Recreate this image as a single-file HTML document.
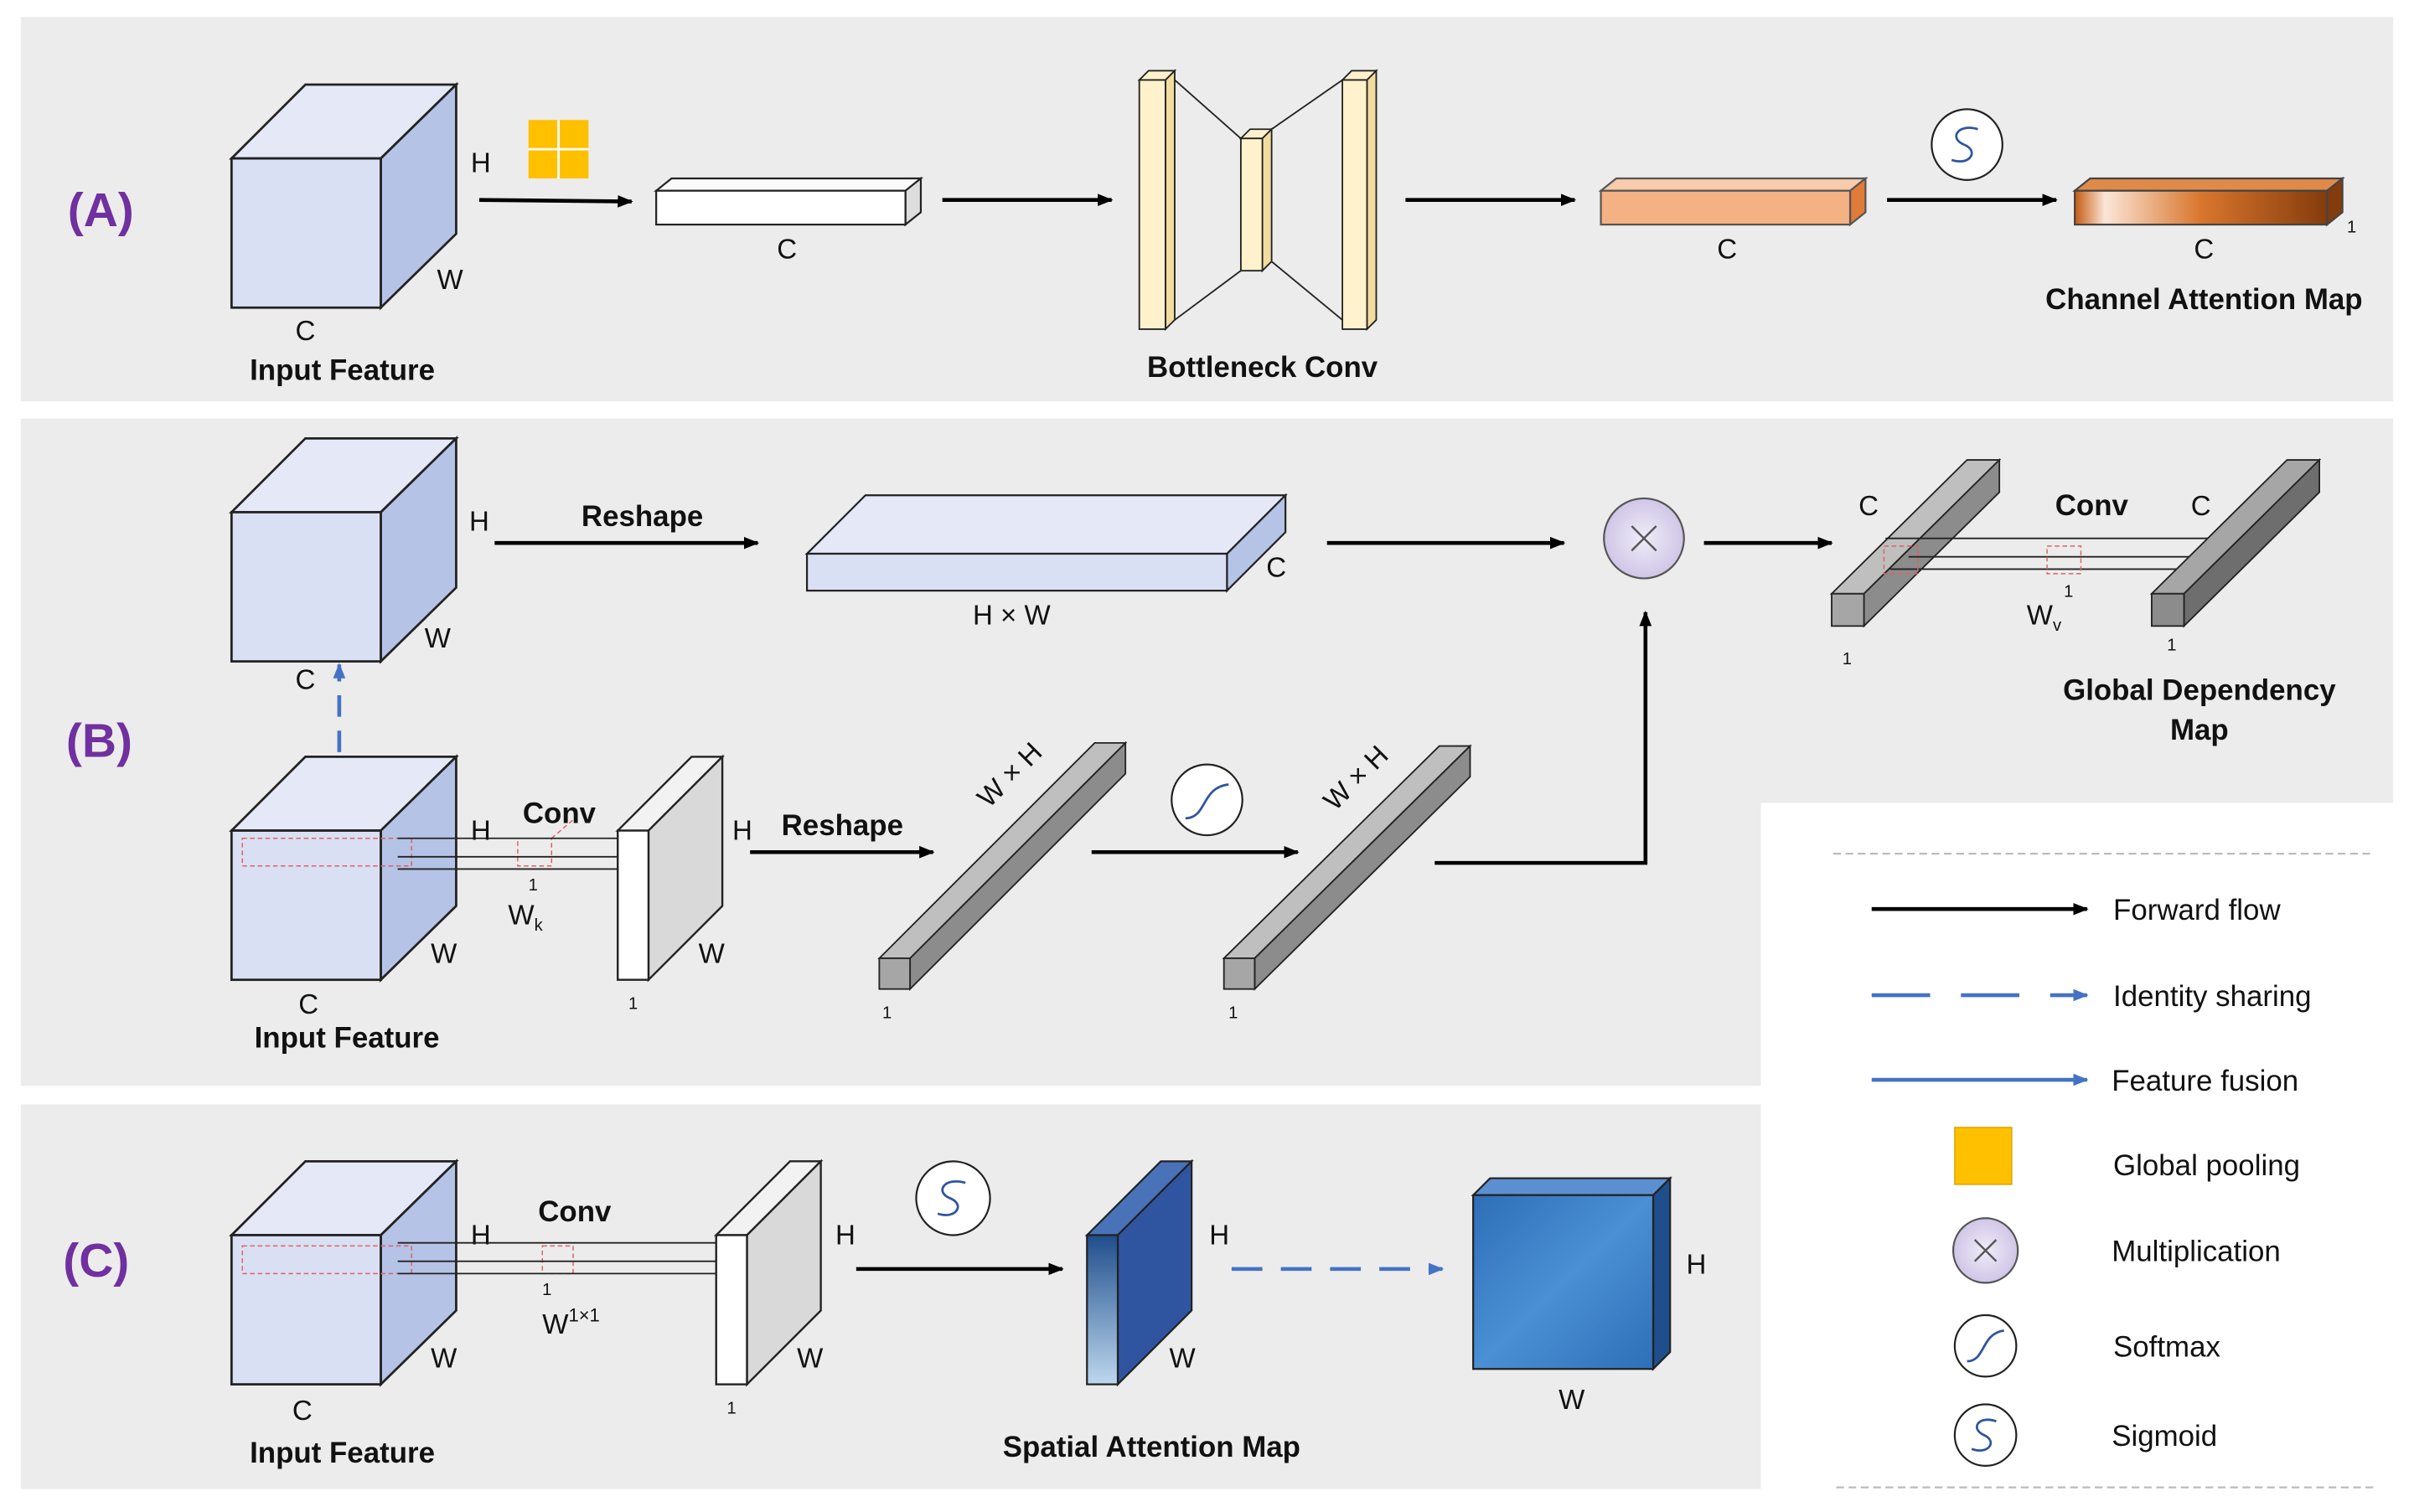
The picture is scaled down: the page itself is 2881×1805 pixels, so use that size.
<!DOCTYPE html>
<html><head><meta charset="utf-8">
<style>
html,body{margin:0;padding:0;background:#fff;}
svg{display:block;}
text{font-family:"Liberation Sans",sans-serif;fill:#111;}
.b{font-weight:bold;}
</style></head>
<body>
<svg width="2881" height="1805" viewBox="0 0 1568 983" xmlns="http://www.w3.org/2000/svg">
<defs>
<marker id="ah" markerWidth="10" markerHeight="10" refX="9" refY="5" orient="auto" markerUnits="userSpaceOnUse"><path d="M0,1 L10,5 L0,9 z" fill="#000"/></marker>
<marker id="ahb" markerWidth="10" markerHeight="10" refX="9" refY="5" orient="auto" markerUnits="userSpaceOnUse"><path d="M0,1 L10,5 L0,9 z" fill="#4472c4"/></marker>
<linearGradient id="gA" x1="0" x2="1" y1="0" y2="0"><stop offset="0" stop-color="#c55a11"/><stop offset="0.12" stop-color="#fbe5d6"/><stop offset="0.5" stop-color="#d9762d"/><stop offset="1" stop-color="#843c0c"/></linearGradient>
<linearGradient id="gS" x1="0" x2="0" y1="0" y2="1"><stop offset="0" stop-color="#1f4e8c"/><stop offset="1" stop-color="#bdd7ee"/></linearGradient>
<linearGradient id="gC" x1="0" x2="1" y1="0" y2="1"><stop offset="0" stop-color="#2e6fb8"/><stop offset="0.5" stop-color="#4a8fd4"/><stop offset="1" stop-color="#2e6fb8"/></linearGradient>
<radialGradient id="gM"><stop offset="0" stop-color="#f0ecf8"/><stop offset="1" stop-color="#cfc6e6"/></radialGradient>
</defs>

<!-- panel backgrounds -->
<rect x="13" y="11" width="1542" height="250" fill="#ececec"/>
<path d="M13,272 H1555 V522 H1144 V706 H13 Z" fill="#ececec"/>
<rect x="13" y="718" width="1131" height="250" fill="#ececec"/>

<!-- ===== Panel A ===== -->
<text x="65" y="147" font-size="31" class="b" text-anchor="middle" style="fill:#7030a0">(A)</text>
<g stroke="#222" stroke-width="1.5">
<polygon points="150,103 198,55 296,55 247,103" fill="#e4e8f7"/>
<polygon points="247,103 296,55 296,152 247,200" fill="#b4c3e6"/>
<rect x="150" y="103" width="97" height="97" fill="#dae0f3"/>
</g>
<text x="312" y="112" font-size="18" text-anchor="middle">H</text>
<text x="292" y="188" font-size="18" text-anchor="middle">W</text>
<text x="198" y="221" font-size="18" text-anchor="middle">C</text>
<text x="222" y="247" font-size="19" class="b" text-anchor="middle">Input Feature</text>
<rect x="343" y="78" width="39" height="38" fill="#ffc000"/>
<line x1="362.5" y1="78" x2="362.5" y2="116" stroke="#fff" stroke-width="1.5"/>
<line x1="343" y1="97" x2="382" y2="97" stroke="#fff" stroke-width="1.5"/>
<line x1="311" y1="130" x2="410" y2="131" stroke="#000" stroke-width="2.5" marker-end="url(#ah)"/>
<g stroke="#222" stroke-width="1.2">
<polygon points="426,124 436,116 598,116 588,124" fill="#fafafa"/>
<polygon points="588,124 598,116 598,138 588,146" fill="#ddd"/>
<rect x="426" y="124" width="162" height="22" fill="#fff"/>
</g>
<text x="511" y="168" font-size="18" text-anchor="middle">C</text>
<line x1="612" y1="130" x2="722" y2="130" stroke="#000" stroke-width="2.5" marker-end="url(#ah)"/>
<g stroke="#222" stroke-width="1">
<line x1="763" y1="52" x2="806" y2="90"/><line x1="763" y1="208" x2="806" y2="176"/>
<line x1="826" y1="84" x2="872" y2="52"/><line x1="826" y1="170" x2="872" y2="208"/>
<polygon points="740,52 746,46 763,46 757,52" fill="#fff2cc"/>
<polygon points="757,52 763,46 763,208 757,214" fill="#f2dca0"/>
<rect x="740" y="52" width="17" height="162" fill="#fff2cc"/>
<polygon points="806,90 812,84 826,84 820,90" fill="#fff2cc"/>
<polygon points="820,90 826,84 826,170 820,176" fill="#f2dca0"/>
<rect x="806" y="90" width="14" height="86" fill="#fff2cc"/>
<polygon points="872,52 878,46 894,46 888,52" fill="#fff2cc"/>
<polygon points="888,52 894,46 894,208 888,214" fill="#f2dca0"/>
<rect x="872" y="52" width="16" height="162" fill="#fff2cc"/>
</g>
<text x="820" y="245" font-size="19" class="b" text-anchor="middle">Bottleneck Conv</text>
<line x1="913" y1="130" x2="1023" y2="130" stroke="#000" stroke-width="2.5" marker-end="url(#ah)"/>
<g stroke="#555" stroke-width="1.2">
<polygon points="1040,124 1050,116 1212,116 1202,124" fill="#f8cbad"/>
<polygon points="1202,124 1212,116 1212,138 1202,146" fill="#e07b39"/>
<rect x="1040" y="124" width="162" height="22" fill="#f4b183"/>
</g>
<text x="1122" y="168" font-size="18" text-anchor="middle">C</text>
<circle cx="1278" cy="94" r="23" fill="#fff" stroke="#222" stroke-width="1.2"/>
<path d="M1285,84 C1272,80 1266,90 1276,94 C1286,98 1280,108 1268,104" fill="none" stroke="#2f55a0" stroke-width="1.5"/>
<line x1="1226" y1="130" x2="1336" y2="130" stroke="#000" stroke-width="2.5" marker-end="url(#ah)"/>
<g stroke="#444" stroke-width="1.2">
<polygon points="1348,124 1358,116 1522,116 1512,124" fill="#e08a4a"/>
<polygon points="1512,124 1522,116 1522,138 1512,146" fill="#843c0c"/>
<rect x="1348" y="124" width="164" height="22" fill="url(#gA)"/>
</g>
<text x="1528" y="151" font-size="11" text-anchor="middle">1</text>
<text x="1432" y="168" font-size="18" text-anchor="middle">C</text>
<text x="1432" y="201" font-size="19" class="b" text-anchor="middle">Channel Attention Map</text>

<!-- ===== Panel B ===== -->
<text x="64" y="492" font-size="31" class="b" text-anchor="middle" style="fill:#7030a0">(B)</text>
<g stroke="#222" stroke-width="1.5">
<polygon points="150,333 198,285 296,285 247,333" fill="#e4e8f7"/>
<polygon points="247,333 296,285 296,382 247,430" fill="#b4c3e6"/>
<rect x="150" y="333" width="97" height="97" fill="#dae0f3"/>
</g>
<text x="311" y="345" font-size="18" text-anchor="middle">H</text>
<text x="284" y="421" font-size="18" text-anchor="middle">W</text>
<text x="198" y="448" font-size="18" text-anchor="middle">C</text>
<text x="417" y="342" font-size="19" class="b" text-anchor="middle">Reshape</text>
<line x1="321" y1="353" x2="492" y2="353" stroke="#000" stroke-width="2.5" marker-end="url(#ah)"/>
<g stroke="#222" stroke-width="1.2">
<polygon points="524,360 562,322 835,322 797,360" fill="#e4e8f7"/>
<polygon points="797,360 835,322 835,346 797,384" fill="#b4c3e6"/>
<rect x="524" y="360" width="273" height="24" fill="#dae0f3"/>
</g>
<text x="829" y="375" font-size="18" text-anchor="middle">C</text>
<text x="657" y="406" font-size="18" text-anchor="middle">H × W</text>
<line x1="862" y1="353" x2="1016" y2="353" stroke="#000" stroke-width="2.5" marker-end="url(#ah)"/>
<circle cx="1068" cy="350" r="26" fill="url(#gM)" stroke="#555" stroke-width="1.2"/>
<path d="M1060,342 L1076,358 M1076,342 L1060,358" stroke="#555" stroke-width="1.3"/>
<line x1="1107" y1="353" x2="1190" y2="353" stroke="#000" stroke-width="2.5" marker-end="url(#ah)"/>
<!-- global dependency bars -->
<g stroke="#222" stroke-width="1">
<polygon points="1190,386 1278,299 1299,299 1211,386" fill="#bfbfbf"/>
<polygon points="1211,386 1299,299 1299,320 1211,407" fill="#8c8c8c"/>
<rect x="1190" y="386" width="21" height="21" fill="#a6a6a6"/>
<line x1="1225" y1="350" x2="1455" y2="350"/>
<line x1="1240" y1="362" x2="1440" y2="362"/>
<line x1="1228" y1="370" x2="1440" y2="370"/>
<polygon points="1398,386 1486,299 1507,299 1419,386" fill="#a6a6a6"/>
<polygon points="1419,386 1507,299 1507,320 1419,407" fill="#6e6e6e"/>
<rect x="1398" y="386" width="21" height="21" fill="#8c8c8c"/>
</g>
<g stroke="#e06060" stroke-width="0.8" fill="none" stroke-dasharray="3,2">
<rect x="1224" y="355" width="22" height="18"/><rect x="1330" y="355" width="22" height="18"/>
</g>
<text x="1214" y="335" font-size="18" text-anchor="middle">C</text>
<text x="1359" y="335" font-size="19" class="b" text-anchor="middle">Conv</text>
<text x="1430" y="335" font-size="18" text-anchor="middle">C</text>
<text x="1344" y="388" font-size="11" text-anchor="middle">1</text>
<text x="1328" y="406" font-size="18" text-anchor="middle">W<tspan font-size="11" dy="4">v</tspan></text>
<text x="1411" y="423" font-size="11" text-anchor="middle">1</text>
<text x="1200" y="432" font-size="11" text-anchor="middle">1</text>
<text x="1429" y="455" font-size="19" class="b" text-anchor="middle">Global Dependency</text>
<text x="1429" y="481" font-size="19" class="b" text-anchor="middle">Map</text>
<!-- dashed vertical -->
<line x1="220" y1="512" x2="220" y2="432" stroke="#4472c4" stroke-width="2.5" stroke-dasharray="14,9" marker-end="url(#ahb)"/>
<!-- lower cube -->
<g stroke="#222" stroke-width="1.5">
<polygon points="150,540 198,492 296,492 247,540" fill="#e4e8f7"/>
<polygon points="247,540 296,492 296,589 247,637" fill="#b4c3e6"/>
<rect x="150" y="540" width="97" height="97" fill="#dae0f3"/>
</g>
<g stroke="#e06060" stroke-width="0.8" fill="none" stroke-dasharray="3,2">
<rect x="157" y="545" width="110" height="18"/><rect x="336" y="545" width="22" height="18"/><line x1="358" y1="545" x2="372" y2="533"/>
</g>
<g stroke="#222" stroke-width="1">
<line x1="258" y1="545" x2="435" y2="545"/><line x1="258" y1="557" x2="415" y2="557"/><line x1="258" y1="565" x2="415" y2="565"/>
<polygon points="401,540 449,492 469,492 421,540" fill="#f2f2f2" stroke-width="1.3"/>
<polygon points="421,540 469,492 469,589 421,637" fill="#d9d9d9" stroke-width="1.3"/>
<rect x="401" y="540" width="20" height="97" fill="#fff" stroke-width="1.3"/>
</g>
<text x="312" y="546" font-size="18" text-anchor="middle">H</text>
<text x="288" y="626" font-size="18" text-anchor="middle">W</text>
<text x="200" y="659" font-size="18" text-anchor="middle">C</text>
<text x="225" y="681" font-size="19" class="b" text-anchor="middle">Input Feature</text>
<text x="363" y="535" font-size="19" class="b" text-anchor="middle">Conv</text>
<text x="346" y="579" font-size="11" text-anchor="middle">1</text>
<text x="341" y="601" font-size="18" text-anchor="middle">W<tspan font-size="11" dy="4">k</tspan></text>
<text x="482" y="546" font-size="18" text-anchor="middle">H</text>
<text x="462" y="626" font-size="18" text-anchor="middle">W</text>
<text x="411" y="656" font-size="11" text-anchor="middle">1</text>
<text x="547" y="543" font-size="19" class="b" text-anchor="middle">Reshape</text>
<line x1="487" y1="554" x2="606" y2="554" stroke="#000" stroke-width="2.5" marker-end="url(#ah)"/>
<!-- diag bar 1 -->
<g stroke="#222" stroke-width="1">
<polygon points="571,623 711,483 731,483 591,623" fill="#bfbfbf"/>
<polygon points="591,623 731,483 731,503 591,643" fill="#8c8c8c"/>
<rect x="571" y="623" width="20" height="20" fill="#a6a6a6"/>
</g>
<text x="576" y="662" font-size="11" text-anchor="middle">1</text>
<text x="660" y="508" font-size="18" text-anchor="middle" transform="rotate(-45 660 508)">W × H</text>
<circle cx="784" cy="520" r="23" fill="#fff" stroke="#222" stroke-width="1.2"/>
<path d="M770,532 C784,532 780,512 798,510" fill="none" stroke="#2f55a0" stroke-width="1.5"/>
<line x1="709" y1="554" x2="843" y2="554" stroke="#000" stroke-width="2.5" marker-end="url(#ah)"/>
<g stroke="#222" stroke-width="1">
<polygon points="795,623 935,485 955,485 815,623" fill="#bfbfbf"/>
<polygon points="815,623 955,485 955,505 815,643" fill="#8c8c8c"/>
<rect x="795" y="623" width="20" height="20" fill="#a6a6a6"/>
</g>
<text x="801" y="662" font-size="11" text-anchor="middle">1</text>
<text x="885" y="510" font-size="18" text-anchor="middle" transform="rotate(-45 885 510)">W × H</text>
<polyline points="932,561 1069,561 1069,398" fill="none" stroke="#000" stroke-width="2.5" marker-end="url(#ah)"/>

<!-- ===== Legend ===== -->
<line x1="1191" y1="555" x2="1542" y2="555" stroke="#bbb" stroke-width="1.2" stroke-dasharray="5,3"/>
<line x1="1216" y1="591" x2="1356" y2="591" stroke="#000" stroke-width="2.5" marker-end="url(#ah)"/>
<text x="1373" y="598" font-size="19">Forward flow</text>
<line x1="1216" y1="647" x2="1356" y2="647" stroke="#4472c4" stroke-width="2.5" stroke-dasharray="38,20" marker-end="url(#ahb)"/>
<text x="1373" y="654" font-size="19">Identity sharing</text>
<line x1="1216" y1="702" x2="1356" y2="702" stroke="#4472c4" stroke-width="2.5" marker-end="url(#ahb)"/>
<text x="1372" y="709" font-size="19">Feature fusion</text>
<rect x="1270" y="733" width="37" height="37" fill="#ffc000" stroke="#d9a400" stroke-width="0.8"/>
<text x="1373" y="764" font-size="19">Global pooling</text>
<circle cx="1290" cy="813" r="21" fill="url(#gM)" stroke="#555" stroke-width="1.2"/>
<path d="M1283,806 L1297,820 M1297,806 L1283,820" stroke="#555" stroke-width="1.3"/>
<text x="1372" y="820" font-size="19">Multiplication</text>
<circle cx="1290" cy="875" r="20" fill="#fff" stroke="#222" stroke-width="1.2"/>
<path d="M1278,885 C1290,885 1287,867 1302,865" fill="none" stroke="#2f55a0" stroke-width="1.5"/>
<text x="1373" y="882" font-size="19">Softmax</text>
<circle cx="1290" cy="933" r="20" fill="#fff" stroke="#222" stroke-width="1.2"/>
<path d="M1297,924 C1285,920 1280,929 1289,933 C1298,937 1292,946 1281,942" fill="none" stroke="#2f55a0" stroke-width="1.5"/>
<text x="1372" y="940" font-size="19">Sigmoid</text>
<line x1="1193" y1="967" x2="1542" y2="967" stroke="#bbb" stroke-width="1.2" stroke-dasharray="5,3"/>

<!-- ===== Panel C ===== -->
<text x="62" y="830" font-size="31" class="b" text-anchor="middle" style="fill:#7030a0">(C)</text>
<g stroke="#222" stroke-width="1.5">
<polygon points="150,803 198,755 296,755 247,803" fill="#e4e8f7"/>
<polygon points="247,803 296,755 296,852 247,900" fill="#b4c3e6"/>
<rect x="150" y="803" width="97" height="97" fill="#dae0f3"/>
</g>
<g stroke="#e06060" stroke-width="0.8" fill="none" stroke-dasharray="3,2">
<rect x="157" y="810" width="110" height="18"/><rect x="352" y="810" width="20" height="18"/><rect x="485" y="810" width="12" height="18"/>
</g>
<g stroke="#222" stroke-width="1">
<line x1="258" y1="808" x2="498" y2="808"/><line x1="258" y1="820" x2="480" y2="820"/><line x1="258" y1="828" x2="480" y2="828"/>
<polygon points="465,803 513,755 533,755 485,803" fill="#f2f2f2" stroke-width="1.3"/>
<polygon points="485,803 533,755 533,852 485,900" fill="#d9d9d9" stroke-width="1.3"/>
<rect x="465" y="803" width="20" height="97" fill="#fff" stroke-width="1.3"/>
</g>
<text x="312" y="809" font-size="18" text-anchor="middle">H</text>
<text x="288" y="889" font-size="18" text-anchor="middle">W</text>
<text x="196" y="923" font-size="18" text-anchor="middle">C</text>
<text x="222" y="951" font-size="19" class="b" text-anchor="middle">Input Feature</text>
<text x="373" y="794" font-size="19" class="b" text-anchor="middle">Conv</text>
<text x="355" y="842" font-size="11" text-anchor="middle">1</text>
<text x="352" y="867" font-size="18">W<tspan font-size="12" dy="-8">1×1</tspan></text>
<text x="549" y="809" font-size="18" text-anchor="middle">H</text>
<text x="526" y="889" font-size="18" text-anchor="middle">W</text>
<text x="475" y="919" font-size="11" text-anchor="middle">1</text>
<circle cx="619" cy="779" r="24" fill="#fff" stroke="#222" stroke-width="1.2"/>
<path d="M627,769 C613,765 607,775 617,779 C627,783 621,793 609,789" fill="none" stroke="#2f55a0" stroke-width="1.5"/>
<line x1="556" y1="825" x2="690" y2="825" stroke="#000" stroke-width="2.5" marker-end="url(#ah)"/>
<g stroke="#222" stroke-width="1.2">
<polygon points="706,803 754,755 774,755 726,803" fill="#4a72b8"/>
<polygon points="726,803 774,755 774,852 726,900" fill="#2f55a0"/>
<rect x="706" y="803" width="20" height="97" fill="url(#gS)"/>
</g>
<text x="792" y="809" font-size="18" text-anchor="middle">H</text>
<text x="768" y="889" font-size="18" text-anchor="middle">W</text>
<text x="748" y="947" font-size="19" class="b" text-anchor="middle">Spatial Attention Map</text>
<line x1="800" y1="825" x2="937" y2="825" stroke="#4472c4" stroke-width="2.5" stroke-dasharray="20,12" marker-end="url(#ahb)"/>
<g stroke="#222" stroke-width="1.2">
<polygon points="957,777 968,766 1085,766 1074,777" fill="#5b8fd0"/>
<polygon points="1074,777 1085,766 1085,879 1074,890" fill="#1f4e8c"/>
<rect x="957" y="777" width="117" height="113" fill="url(#gC)"/>
</g>
<text x="1102" y="828" font-size="18" text-anchor="middle">H</text>
<text x="1021" y="916" font-size="18" text-anchor="middle">W</text>
</svg>
</body></html>
